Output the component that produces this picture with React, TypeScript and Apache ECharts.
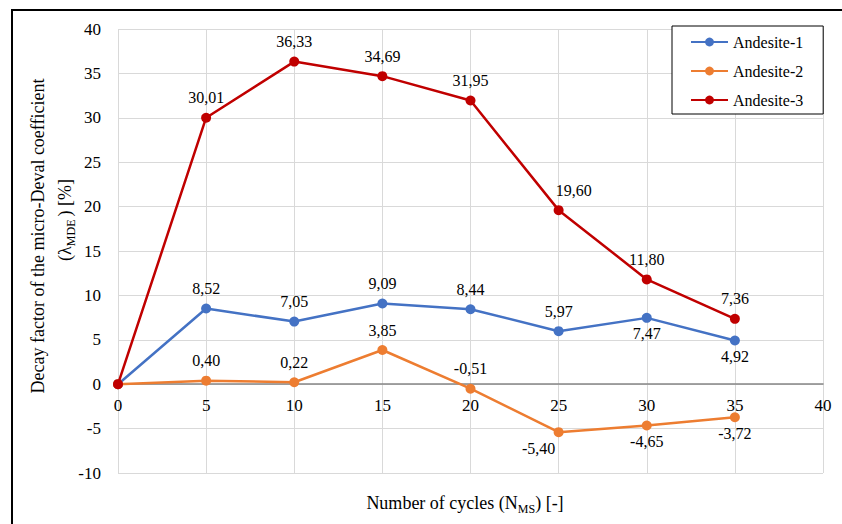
import React, { useEffect, useRef } from "react";
import * as echarts from "echarts";

// Number of micro-Deval cycles
const cycles = [0, 5, 10, 15, 20, 25, 30, 35];

// Decay factor of the micro-Deval coefficient, %
const andesite1 = [0, 8.52, 7.05, 9.09, 8.44, 5.97, 7.47, 4.92];
const andesite2 = [0, 0.4, 0.22, 3.85, -0.51, -5.4, -4.65, -3.72];
const andesite3 = [0, 30.01, 36.33, 34.69, 31.95, 19.6, 11.8, 7.36];

const seriesNames = ["Andesite-1", "Andesite-2", "Andesite-3"];
const seriesColors = ["#4472C4", "#ED7D31", "#C00000"];

// cycle counts whose value label sits under the marker
const labelsBelow: number[][] = [[30, 35], [25, 30, 35], []];
// labels nudged sideways to keep clear of the line: [series, cycle, dx]
const labelNudges: [number, number, number][] = [
  [1, 25, -20],
  [2, 25, 15],
];

const Y_MIN = -10;
const Y_MAX = 40;

const FONT = "Liberation Serif";

const GRID = { left: 118, right: 19, top: 29, bottom: 51 };
const HEIGHT = 524;

const fmt = (v: number) => v.toFixed(2).replace(".", ",");

function buildSeries(values: number[], idx: number) {
  return {
    name: seriesNames[idx],
    type: "line",
    symbol: "circle",
    symbolSize: 10,
    color: seriesColors[idx],
    lineStyle: { width: 2.5, color: seriesColors[idx] },
    itemStyle: { color: seriesColors[idx] },
    z: 2 + idx,
    data: cycles.map((c, i) => {
      const below = labelsBelow[idx].includes(c);
      const nudge = labelNudges.find((n) => n[0] === idx && n[1] === c);
      return {
        value: [c, values[i]],
        label: {
          show: c !== 0,
          position: below ? "bottom" : "top",
          distance: below ? 3 : 7,
          offset: [nudge ? nudge[2] : 0, 0],
        },
      };
    }),
    label: {
      show: true,
      fontFamily: FONT,
      fontSize: 16,
      color: "#000",
      formatter: (p: any) => fmt(p.value[1]),
    },
  };
}

export default function App() {
  const ref = useRef<HTMLDivElement>(null);

  useEffect(() => {
    if (!ref.current) return;
    const chart = echarts.init(ref.current, undefined, { renderer: "svg" });
    // lift the x axis (line and labels) from the bottom edge to y = 0
    const plotH = HEIGHT - GRID.top - GRID.bottom;
    const zeroLift = ((0 - Y_MIN) / (Y_MAX - Y_MIN)) * plotH;
    const option: any = {
      animation: false,
      backgroundColor: "#fff",
      grid: GRID,
      xAxis: {
        type: "value",
        min: 0,
        max: 40,
        interval: 5,
        offset: -zeroLift,
        axisLine: { show: true, onZero: false, lineStyle: { color: "#868686", width: 1.5 } },
        axisTick: { show: false },
        axisLabel: { fontFamily: FONT, fontSize: 17, color: "#000", margin: 13 },
        splitLine: { show: true, lineStyle: { color: "#D9D9D9", width: 1 } },
      },
      yAxis: {
        type: "value",
        min: Y_MIN,
        max: Y_MAX,
        interval: 5,
        axisLine: { show: false },
        axisTick: { show: false },
        axisLabel: { fontFamily: FONT, fontSize: 17, color: "#000", margin: 17 },
        splitLine: { show: true, lineStyle: { color: "#D9D9D9", width: 1 } },
      },
      legend: {
        orient: "vertical",
        left: 672,
        top: 26,
        padding: [7, 20, 5, 18],
        itemGap: 11,
        itemWidth: 37,
        itemHeight: 11,
        borderColor: "#000",
        borderWidth: 1,
        backgroundColor: "#fff",
        textStyle: { fontFamily: FONT, fontSize: 16, color: "#000", lineHeight: 18 },
        data: seriesNames,
      },
      series: [
        buildSeries(andesite1, 0),
        buildSeries(andesite2, 1),
        buildSeries(andesite3, 2),
      ],
      graphic: [
        {
          type: "rect",
          shape: { x: 12, y: 10, width: 900, height: 600 },
          style: { fill: "none", stroke: "#000", lineWidth: 2 },
          silent: true,
        },
        {
          type: "text",
          x: 38,
          y: 236,
          rotation: Math.PI / 2,
          style: {
            text: "Decay factor of the micro-Deval coefficient",
            fontFamily: FONT,
            fontSize: 18,
            fill: "#000",
            align: "center",
            verticalAlign: "middle",
          },
        },
        {
          type: "text",
          x: 65,
          y: 220,
          rotation: Math.PI / 2,
          style: {
            text: "{a|(λ}{s|MDE}{a|) [%]}",
            align: "center",
            verticalAlign: "middle",
            rich: {
              a: { fontFamily: FONT, fontSize: 18, fill: "#000", lineHeight: 24 },
              s: {
                fontFamily: FONT,
                fontSize: 12,
                fill: "#000",
                lineHeight: 14,
                verticalAlign: "bottom",
                padding: [0, 3, 0, 0],
              },
            },
          },
        },
        {
          type: "text",
          x: 465,
          y: 503,
          style: {
            text: "{a|Number of cycles (N}{s|MS}{a|) [-]}",
            align: "center",
            verticalAlign: "middle",
            rich: {
              a: { fontFamily: FONT, fontSize: 18, fill: "#000", lineHeight: 24 },
              s: {
                fontFamily: FONT,
                fontSize: 12,
                fill: "#000",
                lineHeight: 14,
                verticalAlign: "bottom",
              },
            },
          },
        },
      ],
    };
    chart.setOption(option);
    return () => chart.dispose();
  }, []);

  return (
    <>
      <style>{`.decay-chart svg text { font-family: "Liberation Serif", "Times New Roman", serif !important; }`}</style>
      <div
        ref={ref}
        className="decay-chart"
        style={{ position: "fixed", left: 0, top: 0, width: 842, height: 524 }}
      />
    </>
  );
}
